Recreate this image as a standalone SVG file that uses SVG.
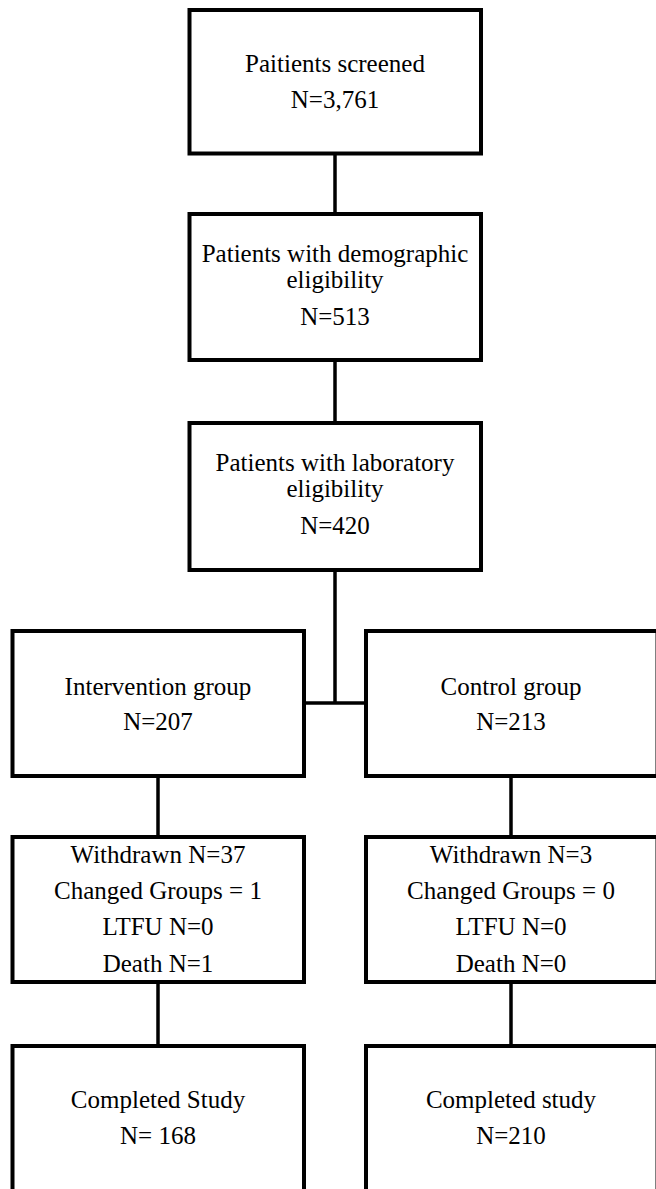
<svg xmlns="http://www.w3.org/2000/svg" width="656" height="1189" viewBox="0 0 656 1189">
<style>
.box{fill:#fff;stroke:#000;stroke-width:4}
.ln{fill:none;stroke:#000;stroke-width:3.5}
text{font-family:"Liberation Serif","Times New Roman",serif;font-size:25px;fill:#000;text-anchor:middle}
</style>
<rect width="656" height="1189" fill="#fff"/>
<g id="connectors">
<line class="ln" x1="335" y1="153" x2="335" y2="214"/>
<line class="ln" x1="335" y1="360" x2="335" y2="423"/>
<line class="ln" x1="335" y1="570" x2="335" y2="703"/>
<line class="ln" x1="304" y1="703" x2="366" y2="703"/>
<line class="ln" x1="158" y1="776" x2="158" y2="837"/>
<line class="ln" x1="158" y1="982" x2="158" y2="1046"/>
<line class="ln" x1="511" y1="776" x2="511" y2="837"/>
<line class="ln" x1="511" y1="982" x2="511" y2="1046"/>
</g>
<g id="screened">
<rect class="box" x="189.5" y="10" width="291.5" height="143.5"/>
<text x="335" y="72">Paitients screened</text>
<text x="335" y="108">N=3,761</text>
</g>
<g id="demographic">
<rect class="box" x="189.5" y="214" width="291.5" height="146"/>
<text x="335" y="262">Patients with demographic</text>
<text x="335" y="288">eligibility</text>
<text x="335" y="325">N=513</text>
</g>
<g id="laboratory">
<rect class="box" x="189.5" y="423" width="291.5" height="147"/>
<text x="335" y="471">Patients with laboratory</text>
<text x="335" y="497">eligibility</text>
<text x="335" y="534">N=420</text>
</g>
<g id="intervention">
<rect class="box" x="12.5" y="631" width="291.5" height="145"/>
<text x="158" y="695">Intervention group</text>
<text x="158" y="730">N=207</text>
</g>
<g id="control">
<rect class="box" x="366" y="631" width="291.5" height="145"/>
<text x="511" y="695">Control group</text>
<text x="511" y="730">N=213</text>
</g>
<g id="withdrawn-intervention">
<rect class="box" x="12.5" y="837" width="291.5" height="145"/>
<text x="158" y="863">Withdrawn N=37</text>
<text x="158" y="899">Changed Groups = 1</text>
<text x="158" y="935">LTFU N=0</text>
<text x="158" y="972">Death N=1</text>
</g>
<g id="withdrawn-control">
<rect class="box" x="366" y="837" width="291.5" height="145"/>
<text x="511" y="863">Withdrawn N=3</text>
<text x="511" y="899">Changed Groups = 0</text>
<text x="511" y="935">LTFU N=0</text>
<text x="511" y="972">Death N=0</text>
</g>
<g id="completed-intervention">
<rect class="box" x="12.5" y="1046" width="291.5" height="160"/>
<text x="158" y="1108">Completed Study</text>
<text x="158" y="1144">N= 168</text>
</g>
<g id="completed-control">
<rect class="box" x="366" y="1046" width="291.5" height="160"/>
<text x="511" y="1108">Completed study</text>
<text x="511" y="1144">N=210</text>
</g>
</svg>
